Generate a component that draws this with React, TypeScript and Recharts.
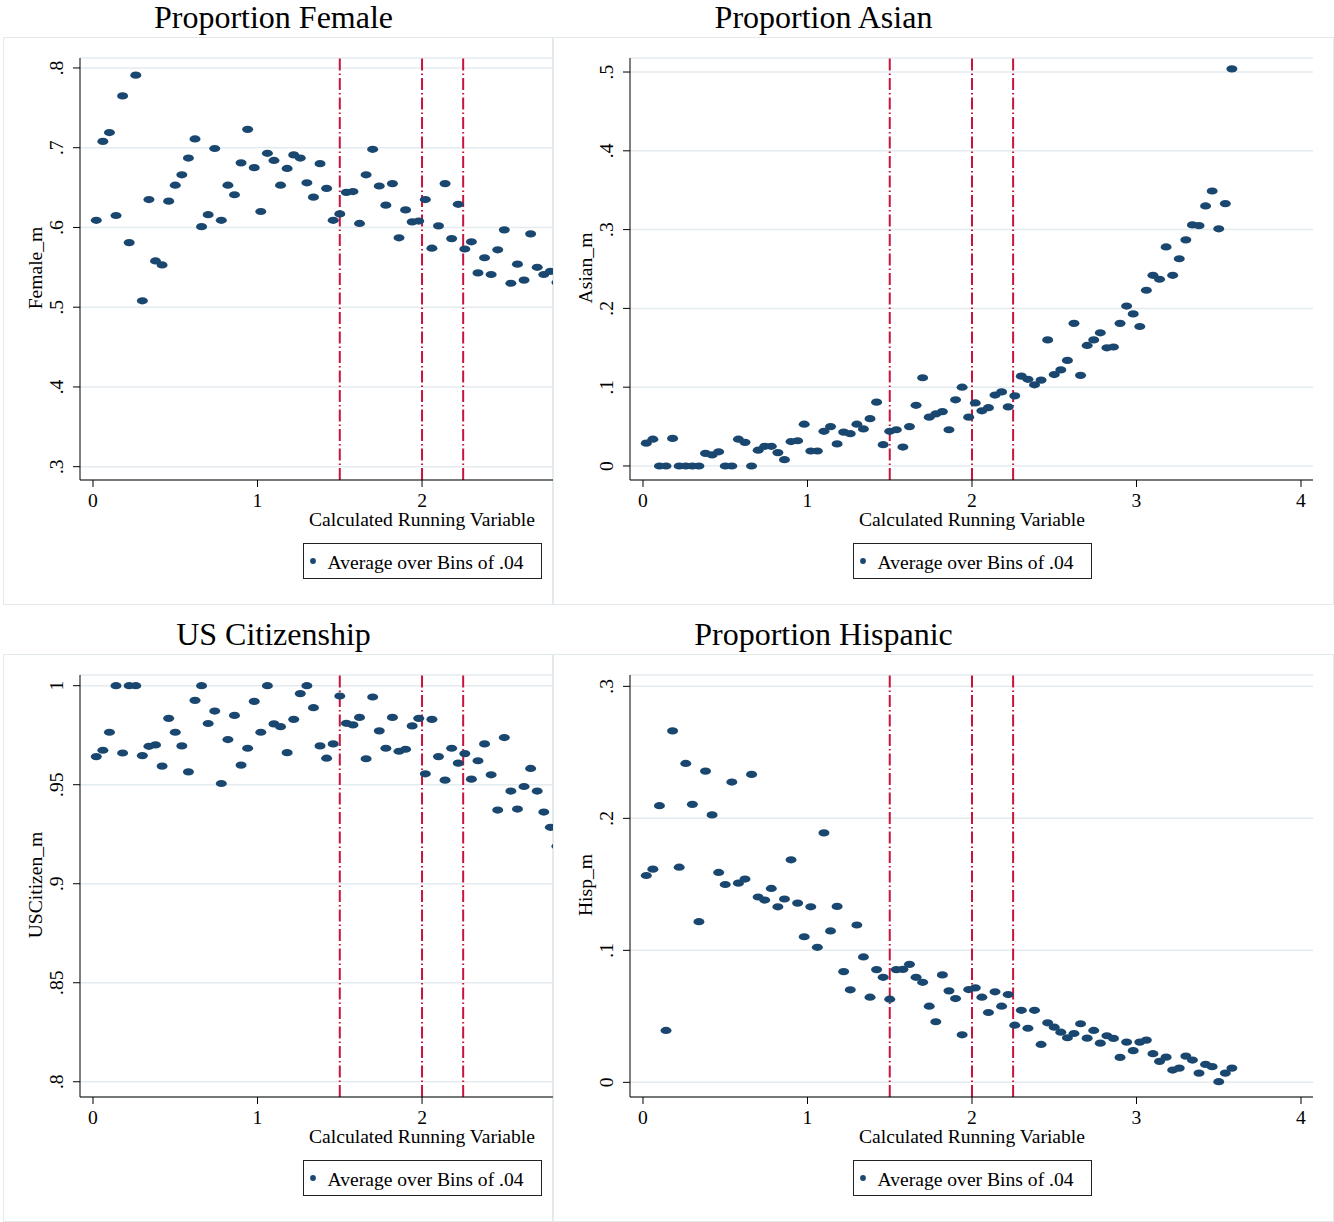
import { CartesianGrid, ReferenceLine, Scatter, ScatterChart, XAxis, YAxis } from "recharts";

// bin averages, bins of .04 starting at 0
const femaleValues = [
  0.609, 0.708, 0.719, 0.615, 0.765, 0.581, 0.791, 0.508, 0.635, 0.558,
  0.553, 0.633, 0.653, 0.666, 0.687, 0.711, 0.601, 0.616, 0.699, 0.609,
  0.653, 0.641, 0.681, 0.723, 0.675, 0.62, 0.693, 0.684, 0.653, 0.674,
  0.691, 0.687, 0.656, 0.638, 0.68, 0.649, 0.609, 0.617, 0.644, 0.645,
  0.605, 0.666, 0.698, 0.652, 0.628, 0.655, 0.587, 0.622, 0.607, 0.608,
  0.635, 0.574, 0.602, 0.655, 0.586, 0.629, 0.573, 0.582, 0.543, 0.562,
  0.541, 0.572, 0.597, 0.53, 0.554, 0.534, 0.592, 0.55, 0.541, 0.545,
  0.531,
];

const asianValues = [
  0.029, 0.034, 0, 0, 0.035, 0, 0, 0, 0, 0.016,
  0.014, 0.018, 0, 0, 0.034, 0.03, 0, 0.02, 0.025, 0.025,
  0.017, 0.008, 0.031, 0.032, 0.053, 0.019, 0.019, 0.044, 0.05, 0.028,
  0.043, 0.041, 0.053, 0.047, 0.06, 0.081, 0.027, 0.044, 0.046, 0.024,
  0.05, 0.077, 0.112, 0.062, 0.066, 0.069, 0.046, 0.084, 0.1, 0.062,
  0.08, 0.07, 0.074, 0.09, 0.094, 0.075, 0.089, 0.114, 0.11, 0.103,
  0.109, 0.16, 0.116, 0.122, 0.134, 0.181, 0.115, 0.153, 0.16, 0.169,
  0.15, 0.151, 0.181, 0.203, 0.193, 0.177, 0.223, 0.242, 0.237, 0.278,
  0.242, 0.263, 0.287, 0.306, 0.305, 0.33, 0.349, 0.301, 0.333, 0.504,
];

const citizenValues = [
  0.9642, 0.9674, 0.9765, 1.0, 0.966, 1.0, 1.0, 0.9647, 0.9694, 0.9701,
  0.9594, 0.9835, 0.9765, 0.9696, 0.9565, 0.9926, 1.0, 0.9809, 0.9872, 0.9506,
  0.9728, 0.985, 0.9599, 0.9684, 0.9921, 0.9765, 1.0, 0.9807, 0.9793, 0.9662,
  0.983, 0.996, 1.0, 0.9889, 0.9696, 0.9634, 0.9706, 0.9948, 0.981, 0.9802,
  0.984, 0.9631, 0.9943, 0.9772, 0.9684, 0.984, 0.9669, 0.9679, 0.9797, 0.9835,
  0.9555, 0.983, 0.9642, 0.9523, 0.9684, 0.9609, 0.9657, 0.9528, 0.9621, 0.9706,
  0.955, 0.9372, 0.9738, 0.9468, 0.9377, 0.9491, 0.9582, 0.9468, 0.9362, 0.9285,
  0.9189,
];

const hispValues = [
  0.1567, 0.1615, 0.2096, 0.0393, 0.2663, 0.163, 0.2416, 0.2106, 0.1217, 0.2358,
  0.2026, 0.159, 0.1499, 0.2275, 0.1509, 0.154, 0.2333, 0.1404, 0.1381, 0.1469,
  0.133, 0.1389, 0.1686, 0.1358, 0.1103, 0.133, 0.1023, 0.189, 0.1147, 0.1333,
  0.0839, 0.0701, 0.1192, 0.095, 0.0645, 0.0854, 0.0796, 0.063, 0.0854, 0.0856,
  0.0894, 0.0796, 0.0758, 0.0577, 0.0459, 0.0814, 0.0693, 0.0635, 0.036, 0.0703,
  0.0716, 0.0645, 0.0529, 0.0686, 0.0577, 0.0665, 0.0433, 0.0546, 0.041, 0.0546,
  0.0287, 0.0451, 0.0418, 0.038, 0.0338, 0.037, 0.0444, 0.0335, 0.0393, 0.0297,
  0.0353, 0.0333, 0.0189, 0.0305, 0.024, 0.0305, 0.032, 0.0217, 0.0159, 0.0191,
  0.0093, 0.0108, 0.0199, 0.0169, 0.007, 0.0136, 0.0119, 0.0005, 0.007, 0.0108,
];

const cutoffs = [1.5, 2, 2.25];
const xTicksShort = [0, 1, 2];
const xTicksLong = [0, 1, 2, 3, 4];

const BIN = 0.04;
const toPoints = (vals: number[]) => vals.map((y, i) => ({ x: BIN / 2 + BIN * i, y }));

const NAVY = "#1a476f";
const RED = "#c8143c";
const GRID = "#e3ebef";
const FONT = "'Liberation Serif', 'Times New Roman', serif";
const FS = 19.6;

const fmt = (v: number) => (v === 0 ? "0" : v === 1 ? "1" : String(v).replace(/^0/, ""));

const Dot = (p: any) => <ellipse cx={p.cx} cy={p.cy} rx={5.5} ry={3.6} fill={NAVY} />;

const XTick = (p: any) => (
  <text x={p.x} y={p.y + 20} textAnchor="middle" fontSize={FS} fontFamily={FONT} fill="#000">
    {fmt(p.payload.value)}
  </text>
);

const YTick = (p: any) => {
  const bx = p.x - 9.5;
  return (
    <text
      x={bx}
      y={p.y}
      transform={`rotate(-90 ${bx} ${p.y})`}
      textAnchor="middle"
      fontSize={FS}
      fontFamily={FONT}
      fill="#000"
    >
      {fmt(p.payload.value)}
    </text>
  );
};

type PanelProps = {
  ox: number;
  oy: number;
  boxRight: number;
  plotRight: number;
  title: string;
  yLabel: string;
  values: number[];
  xDomain: [number, number];
  xTicks: number[];
  yDomain: [number, number];
  yTicks: number[];
};

function Panel(props: PanelProps) {
  const { ox, oy, boxRight, plotRight, title, yLabel, values, xDomain, xTicks, yDomain, yTicks } = props;
  return (
    <div style={{ position: "absolute", left: ox, top: oy, width: boxRight, height: 605 }}>
      <div
        style={{
          position: "absolute",
          left: 3,
          top: 37,
          width: boxRight - 3,
          height: 568,
          border: "1px solid #e2eaee",
          boxSizing: "border-box",
          background: "#fff",
        }}
      />
      <div style={{ position: "absolute", left: 0, top: 0 }}>
        <ScatterChart width={plotRight} height={530} margin={{ top: 58, right: 0, bottom: 20, left: 0 }}>
          <CartesianGrid vertical={false} stroke={GRID} strokeWidth={1.5} />
          <XAxis
            type="number"
            dataKey="x"
            domain={xDomain}
            ticks={xTicks}
            interval={0}
            allowDataOverflow
            height={30}
            tickSize={7}
            tickMargin={0}
            stroke="#000"
            tick={<XTick />}
          />
          <YAxis
            type="number"
            dataKey="y"
            domain={yDomain}
            ticks={yTicks}
            interval={0}
            allowDataOverflow
            width={80}
            tickSize={7}
            tickMargin={0}
            stroke="#000"
            tick={<YTick />}
          />
          {cutoffs.map((c) => (
            <ReferenceLine key={c} x={c} stroke={RED} strokeWidth={2} strokeDasharray="12 3 1.5 3" />
          ))}
          <Scatter data={toPoints(values)} shape={<Dot />} isAnimationActive={false} />
        </ScatterChart>
      </div>
      <svg
        width={boxRight}
        height={605}
        style={{ position: "absolute", left: 0, top: 0, pointerEvents: "none", fontFamily: FONT }}
      >
        <text x={273.5} y={28} textAnchor="middle" fontSize={32} fill="#000">
          {title}
        </text>
        <text x={42} y={268} transform="rotate(-90 42 268)" textAnchor="middle" fontSize={FS} fill="#000">
          {yLabel}
        </text>
        <text x={422} y={526} textAnchor="middle" fontSize={FS} fill="#000">
          Calculated Running Variable
        </text>
        <rect x={303.5} y={543.5} width={238} height={35} fill="#fff" stroke="#222" strokeWidth={1} />
        <circle cx={313} cy={561} r={2.9} fill={NAVY} />
        <text x={327.5} y={569} fontSize={FS} fill="#000">
          Average over Bins of .04
        </text>
      </svg>
    </div>
  );
}

export default function App() {
  return (
    <div
      style={{
        position: "absolute",
        left: 0,
        top: 0,
        width: 1334,
        height: 1222,
        background: "#fff",
        overflow: "hidden",
      }}
    >
      <Panel
        ox={0}
        oy={0}
        boxRight={553}
        plotRight={553}
        title="Proportion Female"
        yLabel="Female_m"
        values={femaleValues}
        xDomain={[-0.079, 2.796]}
        xTicks={xTicksShort}
        yDomain={[0.2833, 0.8125]}
        yTicks={[0.3, 0.4, 0.5, 0.6, 0.7, 0.8]}
      />
      <Panel
        ox={550}
        oy={0}
        boxRight={784}
        plotRight={763}
        title="Proportion Asian"
        yLabel="Asian_m"
        values={asianValues}
        xDomain={[-0.079, 4.073]}
        xTicks={xTicksLong}
        yDomain={[-0.0178, 0.5178]}
        yTicks={[0, 0.1, 0.2, 0.3, 0.4, 0.5]}
      />
      <Panel
        ox={0}
        oy={617}
        boxRight={553}
        plotRight={553}
        title="US Citizenship"
        yLabel="USCitizen_m"
        values={citizenValues}
        xDomain={[-0.079, 2.796]}
        xTicks={xTicksShort}
        yDomain={[0.7923, 1.0054]}
        yTicks={[0.8, 0.85, 0.9, 0.95, 1]}
      />
      <Panel
        ox={550}
        oy={617}
        boxRight={784}
        plotRight={763}
        title="Proportion Hispanic"
        yLabel="Hisp_m"
        values={hispValues}
        xDomain={[-0.079, 4.073]}
        xTicks={xTicksLong}
        yDomain={[-0.0111, 0.3086]}
        yTicks={[0, 0.1, 0.2, 0.3]}
      />
    </div>
  );
}
